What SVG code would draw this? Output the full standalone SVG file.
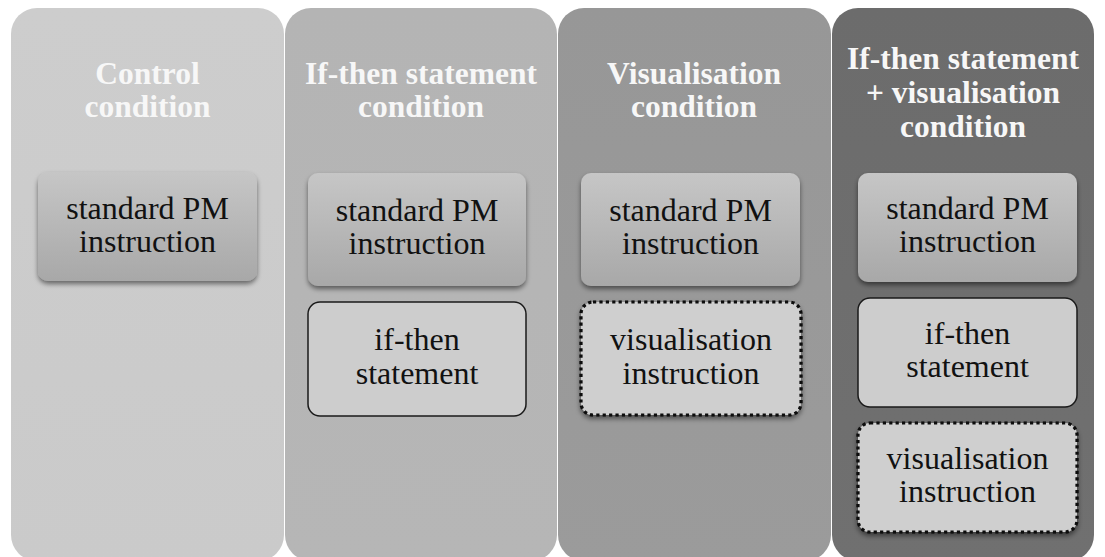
<svg xmlns="http://www.w3.org/2000/svg" width="1105" height="557" viewBox="0 0 1105 557">
<defs>
  <linearGradient id="gc1" x1="0" y1="0" x2="0" y2="1"><stop offset="0" stop-color="#cdcdcd"/><stop offset="1" stop-color="#cacaca"/></linearGradient>
  <linearGradient id="gc2" x1="0" y1="0" x2="0" y2="1"><stop offset="0" stop-color="#b4b4b4"/><stop offset="1" stop-color="#b6b6b6"/></linearGradient>
  <linearGradient id="gc3" x1="0" y1="0" x2="0" y2="1"><stop offset="0" stop-color="#979797"/><stop offset="1" stop-color="#9b9b9b"/></linearGradient>
  <linearGradient id="gc4" x1="0" y1="0" x2="0" y2="1"><stop offset="0" stop-color="#6c6c6c"/><stop offset="1" stop-color="#707070"/></linearGradient>
  <linearGradient id="gpm" x1="0" y1="0" x2="0" y2="1"><stop offset="0" stop-color="#c6c6c6"/><stop offset="1" stop-color="#a8a8a8"/></linearGradient>
  <filter id="shadow" x="-10%" y="-10%" width="120%" height="130%">
    <feGaussianBlur in="SourceAlpha" stdDeviation="2.5"/>
    <feOffset dx="0" dy="3" result="b"/>
    <feComponentTransfer><feFuncA type="linear" slope="0.5"/></feComponentTransfer>
    <feMerge><feMergeNode/><feMergeNode in="SourceGraphic"/></feMerge>
  </filter>
</defs>
<style>
  .col { stroke: none; }
  .title { font-family: "Liberation Serif", "Times New Roman", serif; font-weight: bold; font-size: 31.5px; fill: #f7f7f7; text-anchor: middle; }
  .body { font-family: "Liberation Serif", "Times New Roman", serif; font-size: 32px; fill: #111111; text-anchor: middle; }
  .pm { fill: url(#gpm); filter: url(#shadow); }
  .ifthen { fill: #cdcdcd; stroke: #1a1a1a; stroke-width: 1.5; }
  .vis { fill: #cfcfcf; stroke: #0a0a0a; stroke-width: 3.2; stroke-dasharray: 3.2 3.2; filter: url(#shadow); }
</style>
<rect width="1105" height="557" fill="#ffffff"/>

<g id="col-control">
  <rect class="col" x="11" y="8" width="273" height="553" rx="26" fill="url(#gc1)"/>
  <text class="title" x="147.5" y="84">Control</text>
  <text class="title" x="147.5" y="117">condition</text>
</g>
<g id="col-ifthen">
  <rect class="col" x="285" y="8" width="272" height="553" rx="26" fill="url(#gc2)"/>
  <text class="title" x="421" y="84">If-then statement</text>
  <text class="title" x="421" y="117">condition</text>
</g>
<g id="col-vis">
  <rect class="col" x="558" y="8" width="273" height="553" rx="26" fill="url(#gc3)"/>
  <text class="title" x="694" y="84">Visualisation</text>
  <text class="title" x="694" y="117">condition</text>
</g>
<g id="col-both">
  <rect class="col" x="832" y="8" width="262" height="553" rx="26" fill="url(#gc4)"/>
  <text class="title" x="963" y="69">If-then statement</text>
  <text class="title" x="963" y="103">+ visualisation</text>
  <text class="title" x="963" y="137">condition</text>
</g>

<g id="box-c1-pm">
  <rect class="pm" x="38" y="172" width="219" height="109" rx="10"/>
  <text class="body" x="147.5" y="219">standard PM</text>
  <text class="body" x="147.5" y="252">instruction</text>
</g>

<g id="box-c2-pm">
  <rect class="pm" x="308" y="173" width="218" height="113" rx="10"/>
  <text class="body" x="417" y="221">standard PM</text>
  <text class="body" x="417" y="254">instruction</text>
</g>
<g id="box-c2-ifthen">
  <rect class="ifthen" x="308" y="302" width="218" height="114" rx="12"/>
  <text class="body" x="417" y="350">if-then</text>
  <text class="body" x="417" y="384">statement</text>
</g>

<g id="box-c3-pm">
  <rect class="pm" x="581" y="173" width="219" height="113" rx="10"/>
  <text class="body" x="690.5" y="221">standard PM</text>
  <text class="body" x="690.5" y="254">instruction</text>
</g>
<g id="box-c3-vis">
  <rect class="vis" x="581" y="302" width="220" height="113" rx="12"/>
  <text class="body" x="691" y="350">visualisation</text>
  <text class="body" x="691" y="384">instruction</text>
</g>

<g id="box-c4-pm">
  <rect class="pm" x="858" y="173" width="219" height="109" rx="10"/>
  <text class="body" x="967.5" y="219">standard PM</text>
  <text class="body" x="967.5" y="252">instruction</text>
</g>
<g id="box-c4-ifthen">
  <rect class="ifthen" x="858" y="298" width="219" height="109" rx="12"/>
  <text class="body" x="967.5" y="344">if-then</text>
  <text class="body" x="967.5" y="377">statement</text>
</g>
<g id="box-c4-vis">
  <rect class="vis" x="858" y="423" width="219" height="109" rx="12"/>
  <text class="body" x="967.5" y="469">visualisation</text>
  <text class="body" x="967.5" y="502">instruction</text>
</g>

<g id="connectors"/>
</svg>
